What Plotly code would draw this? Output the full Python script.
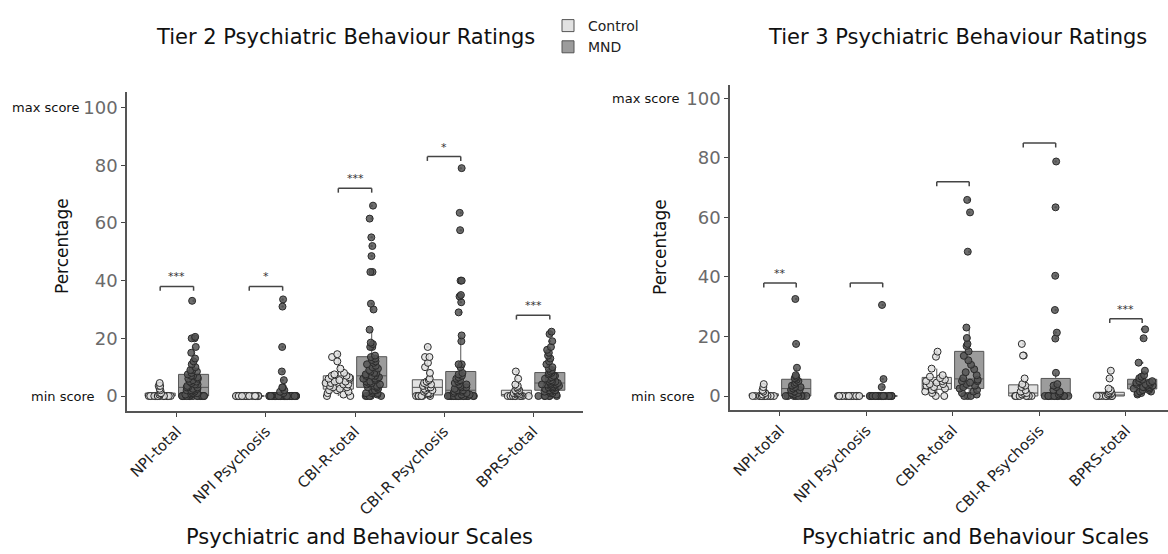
import plotly.graph_objects as go

categories = ["NPI-total", "NPI Psychosis", "CBI-R-total", "CBI-R Psychosis", "BPRS-total"]
groups = ["Control", "MND"]

# ---------------- Tier 2 ----------------
t2_ctrl_npi_total = [0, 0, 0, 0, 0, 0, 0, 0, 0, 0, 0, 0, 0, 0, 0, 0, 0, 0, 0.5, 1, 1, 2, 2.5, 3.5, 3.5, 4.5]
t2_mnd_npi_total = [0, 0, 0, 0, 0, 0, 0, 0, 0, 0, 0, 0, 0, 0, 0, 0, 0.5, 0.5, 1, 1, 1, 1.5, 1.5, 2, 2, 2,
                    2.5, 2.5, 3, 3, 3, 3.5, 4, 4, 4.5, 5, 5, 5.5, 6, 6, 6.5, 7, 7, 7.5, 8, 8.5,
                    9, 9, 10, 11, 12, 13, 15, 17, 20, 20, 20.5, 33]
t2_ctrl_npi_psych = [0, 0, 0, 0, 0, 0, 0, 0, 0, 0, 0, 0, 0, 0, 0, 0, 0, 0, 0, 0, 0, 0, 0, 0, 0, 0]
t2_mnd_npi_psych = [0, 0, 0, 0, 0, 0, 0, 0, 0, 0, 0, 0, 0, 0, 0, 0, 0, 0, 0, 0, 0, 0, 0, 0,
                    0, 0, 0, 0, 0, 0, 0, 0, 0, 0, 0, 0, 0, 0, 0, 0, 0, 0, 0, 0, 0, 0, 0, 0,
                    1, 1.5, 2, 3, 3, 5.5, 8.5, 17, 31, 33.5]
t2_ctrl_cbir_total = [0, 0, 0.5, 1, 1.5, 2, 2, 2.5, 3, 3, 3.5, 4, 4, 4.5, 4.5, 5, 5, 5.5, 6, 6,
                      6.5, 7, 7, 7.5, 8, 9.5, 12, 13.5, 14.5]
t2_mnd_cbir_total = [0, 0, 0, 0, 0, 0.5, 1, 1, 1, 1.5, 2, 2, 2, 2.5, 3, 3, 3.5, 3.5, 4, 4, 4.5, 4.5,
                     5, 5, 5.5, 6, 6, 6, 6.5, 7, 7, 7, 7.5, 8, 8, 8.5, 9, 9.5, 10, 10.5, 11, 11.5,
                     12, 12.5, 13, 13.5, 14, 17, 17, 18, 18.5, 23, 30, 32, 43, 43, 48.5, 52, 55,
                     61.5, 66]
t2_ctrl_cbir_psych = [0, 0, 0, 0, 0, 0, 0, 0.5, 1, 1, 1.5, 2, 2, 2.5, 3, 3, 3.5, 4, 4, 4.5, 5,
                      5.5, 6, 8, 10, 11.5, 13.5, 13.5, 17]
t2_mnd_cbir_psych = [0, 0, 0, 0, 0, 0, 0, 0, 0, 0, 0, 0, 0, 0, 0, 0, 0, 0, 0, 0, 0.5, 0.5, 1, 1,
                     1.5, 1.5, 2, 2, 2, 2.5, 3, 3, 3.5, 4, 4, 4.5, 5, 5.5, 6, 6.5, 7, 7.5, 8, 10,
                     11, 11, 19, 21, 29, 32.5, 34.5, 35, 40, 40, 57.5, 63.5, 79]
t2_ctrl_bprs_total = [0, 0, 0, 0, 0, 0, 0, 0, 0, 0, 0, 0, 0.5, 0.5, 1, 1, 1, 1.5, 1.5, 2, 2, 2.5,
                      3, 3.5, 4, 6, 8.5]
t2_mnd_bprs_total = [0, 0, 0, 0, 0, 0, 0.5, 1, 1, 1.5, 1.5, 2, 2, 2, 2, 2.5, 2.5, 3, 3, 3, 3, 3.5,
                     3.5, 3.5, 4, 4, 4, 4, 4.5, 4.5, 5, 5, 5, 5, 5.5, 6, 6, 6.5, 7, 7, 7.5, 8, 8,
                     8.5, 9, 9.5, 10, 11, 12, 13, 14, 15, 16, 17, 19, 21.5, 22.3]

# ---------------- Tier 3 ----------------
t3_ctrl_npi_total = [0, 0, 0, 0, 0, 0, 0, 0, 0, 0, 0, 0, 0, 0, 0.5, 1, 1.5, 2, 3, 4]
t3_mnd_npi_total = [0, 0, 0, 0, 0, 0, 0, 0, 0.5, 1, 1, 1.5, 2, 2, 2.5, 3, 3, 3.5, 4, 4.5, 5, 5.5,
                    6, 6, 6.5, 7, 9.5, 17.5, 32.6]
t3_ctrl_npi_psych = [0, 0, 0, 0, 0, 0, 0, 0, 0, 0, 0, 0, 0, 0, 0, 0, 0, 0, 0, 0]
t3_mnd_npi_psych = [0, 0, 0, 0, 0, 0, 0, 0, 0, 0, 0, 0, 0, 0, 0, 0, 0, 0, 0, 0, 0, 0, 0, 0, 0, 0,
                    3, 5.7, 30.6]
t3_ctrl_cbir_total = [0, 0, 1, 1.5, 2, 2.5, 3, 3.5, 4, 4, 4.5, 5, 5, 5.5, 6, 6.5, 7, 9.2, 13.2, 14.9]
t3_mnd_cbir_total = [0, 0, 0, 0.5, 1, 1.5, 2, 2.5, 3, 3.5, 4, 4.5, 5, 5, 5.5, 6, 7, 8, 9, 10.5, 12,
                     13.5, 15, 16.8, 17.5, 19.5, 23, 48.5, 61.7, 65.9]
t3_ctrl_cbir_psych = [0, 0, 0, 0, 0, 0, 0, 0, 0.5, 1, 1, 1.5, 2, 3, 3.5, 4, 5.9, 13.6, 13.6, 17.5]
t3_mnd_cbir_psych = [0, 0, 0, 0, 0, 0, 0, 0, 0, 0, 0, 0, 0, 0, 0.5, 1, 1.5, 2, 3, 3.5, 4, 7.8,
                     19.3, 21.3, 28.9, 40.4, 63.4, 78.8]
t3_ctrl_bprs_total = [0, 0, 0, 0, 0, 0, 0, 0, 0, 0, 0.5, 0.5, 1, 1, 1, 1.5, 2, 2.5, 5.9, 8.5]
t3_mnd_bprs_total = [0.5, 1, 1, 1.5, 1.5, 2, 2, 2.5, 2.5, 3, 3, 3, 3.5, 3.5, 4, 4, 4, 4.5, 4.5, 5,
                     5, 5.5, 6, 6.5, 7, 8.5, 11.2, 19.4, 22.4]

# significance brackets (height in %) and labels
t2_sig_y = [38, 38, 72, 83, 28]
t2_sig_labels = ["***", "*", "***", "*", "***"]
t3_sig_y = [38, 38, 72, 85, 26]
t3_sig_labels = ["**", "", "", "", "***"]

y_ticks = [0, 20, 40, 60, 80, 100]

tier2 = {
    "Control": [t2_ctrl_npi_total, t2_ctrl_npi_psych, t2_ctrl_cbir_total, t2_ctrl_cbir_psych, t2_ctrl_bprs_total],
    "MND": [t2_mnd_npi_total, t2_mnd_npi_psych, t2_mnd_cbir_total, t2_mnd_cbir_psych, t2_mnd_bprs_total],
}
tier3 = {
    "Control": [t3_ctrl_npi_total, t3_ctrl_npi_psych, t3_ctrl_cbir_total, t3_ctrl_cbir_psych, t3_ctrl_bprs_total],
    "MND": [t3_mnd_npi_total, t3_mnd_npi_psych, t3_mnd_cbir_total, t3_mnd_cbir_psych, t3_mnd_bprs_total],
}

box_fill = {"Control": "#e2e2e2", "MND": "#9c9c9c"}
pt_fill = {"Control": "rgba(225,225,225,0.85)", "MND": "rgba(85,85,85,0.85)"}

FONT = "DejaVu Sans"
W, H = 1168, 554

fig = go.Figure()

panels = [(tier2, "x", "y", True), (tier3, "x2", "y2", False)]
for data, xa, ya, show in panels:
    for g in groups:
        xs, ys = [], []
        for cat, vals in zip(categories, data[g]):
            xs += [cat] * len(vals)
            ys += vals
        # ggplot-style small outlier dots at box centre
        fig.add_trace(go.Box(
            x=xs, y=ys, xaxis=xa, yaxis=ya, name=g, offsetgroup=g, legendgroup=g,
            showlegend=False, boxpoints="outliers", jitter=0, pointpos=0,
            fillcolor="rgba(0,0,0,0)", line=dict(width=0, color="rgba(0,0,0,0)"),
            marker=dict(size=2.5, color="#555555", line=dict(width=0)),
            hoverinfo="skip", whiskerwidth=0,
        ))
        fig.add_trace(go.Box(
            x=xs, y=ys, xaxis=xa, yaxis=ya, name=g, offsetgroup=g, legendgroup=g,
            showlegend=show, boxpoints="all", jitter=0.9, pointpos=0,
            fillcolor=box_fill[g], line=dict(width=1, color="#555555"),
            marker=dict(size=7, color=pt_fill[g], line=dict(width=1, color="#2a2a2a")),
            whiskerwidth=0,
        ))

shapes = []
annotations = []
off = 0.1875
for (sig_y, sig_lab, xr, yr) in [(t2_sig_y, t2_sig_labels, "x", "y"), (t3_sig_y, t3_sig_labels, "x2", "y2")]:
    for i, (hy, lab) in enumerate(zip(sig_y, sig_lab)):
        x0, x1 = i - off, i + off
        for (a, b, c, d) in [(x0, hy, x1, hy), (x0, hy - 1.5, x0, hy), (x1, hy - 1.5, x1, hy)]:
            shapes.append(dict(type="line", xref=xr, yref=yr, x0=a, y0=b, x1=c, y1=d,
                               line=dict(color="#444444", width=1.5)))
        if lab:
            annotations.append(dict(x=i, y=hy, xref=xr, yref=yr, text=lab, showarrow=False,
                                    yanchor="bottom", yshift=1,
                                    font=dict(size=11, color="#333333", family=FONT)))

def px_x(p):
    return p / W

def px_y(p):
    return 1 - p / H

TITLE_SIZE = 21
annotations += [
    dict(x=px_x(345), y=px_y(37), xref="paper", yref="paper", text="Tier 2 Psychiatric Behaviour Ratings",
         showarrow=False, xanchor="center", yanchor="middle", font=dict(size=TITLE_SIZE, color="#111", family=FONT)),
    dict(x=px_x(957), y=px_y(37), xref="paper", yref="paper", text="Tier 3 Psychiatric Behaviour Ratings",
         showarrow=False, xanchor="center", yanchor="middle", font=dict(size=TITLE_SIZE, color="#111", family=FONT)),
    dict(x=px_x(62), y=px_y(246), xref="paper", yref="paper", text="Percentage", textangle=-90,
         showarrow=False, xanchor="center", yanchor="middle", font=dict(size=17, color="#111", family=FONT)),
    dict(x=px_x(660), y=px_y(247), xref="paper", yref="paper", text="Percentage", textangle=-90,
         showarrow=False, xanchor="center", yanchor="middle", font=dict(size=17, color="#111", family=FONT)),
    dict(x=px_x(359), y=px_y(537), xref="paper", yref="paper", text="Psychiatric and Behaviour Scales",
         showarrow=False, xanchor="center", yanchor="middle", font=dict(size=TITLE_SIZE, color="#111", family=FONT)),
    dict(x=px_x(975), y=px_y(537), xref="paper", yref="paper", text="Psychiatric and Behaviour Scales",
         showarrow=False, xanchor="center", yanchor="middle", font=dict(size=TITLE_SIZE, color="#111", family=FONT)),
    dict(x=px_x(81), y=100, xref="paper", yref="y", text="max score", showarrow=False,
         xanchor="right", yanchor="middle", font=dict(size=13, color="#111", family=FONT)),
    dict(x=px_x(97), y=0, xref="paper", yref="y", text="min score", showarrow=False,
         xanchor="right", yanchor="middle", font=dict(size=13, color="#111", family=FONT)),
    dict(x=px_x(681), y=100, xref="paper", yref="y2", text="max score", showarrow=False,
         xanchor="right", yanchor="middle", font=dict(size=13, color="#111", family=FONT)),
    dict(x=px_x(697), y=0, xref="paper", yref="y2", text="min score", showarrow=False,
         xanchor="right", yanchor="middle", font=dict(size=13, color="#111", family=FONT)),
]

xaxis_common = dict(type="category", categoryorder="array", categoryarray=categories,
                    showline=True, linecolor="#555555", linewidth=1.5, ticks="outside", ticklen=4,
                    tickcolor="#444444", tickangle=-45, showgrid=False, zeroline=False,
                    tickfont=dict(size=15, color="#222222", family=FONT))
yaxis_common = dict(showline=True, linecolor="#555555", linewidth=1.5, ticks="outside", ticklen=4,
                    tickcolor="#444444", showgrid=False, zeroline=False, tickvals=y_ticks,
                    tickfont=dict(size=18, color="#6a6a6a", family=FONT))

fig.update_layout(
    width=W, height=H, autosize=False,
    margin=dict(l=0, r=0, t=0, b=0),
    paper_bgcolor="white", plot_bgcolor="white",
    boxmode="group", boxgap=0.25, boxgroupgap=0.1,
    xaxis=dict(domain=[127 / W, 583 / W], range=[-0.56, 4.56], anchor="y", **xaxis_common),
    yaxis=dict(domain=[1 - 411 / H, 1 - 92 / H], range=[-5.2, 105.4], anchor="x", **yaxis_common),
    xaxis2=dict(domain=[730 / W, 1.0], range=[-0.578, 4.486], anchor="y2", **xaxis_common),
    yaxis2=dict(domain=[1 - 410 / H, 1 - 85 / H], range=[-4.7, 104.5], anchor="x2", **yaxis_common),
    legend=dict(x=px_x(548), y=px_y(10), xanchor="left", yanchor="top", bgcolor="rgba(0,0,0,0)",
                font=dict(size=14, color="#222", family=FONT), tracegroupgap=0, itemwidth=30),
    shapes=shapes, annotations=annotations,
    font=dict(family=FONT),
)

# remove the browser's default 8px body margin so the figure sits at the page origin
fig.write_html("out.html", config={"displayModeBar": False},
               post_script="document.body.style.margin='0';document.body.style.overflow='hidden';")
